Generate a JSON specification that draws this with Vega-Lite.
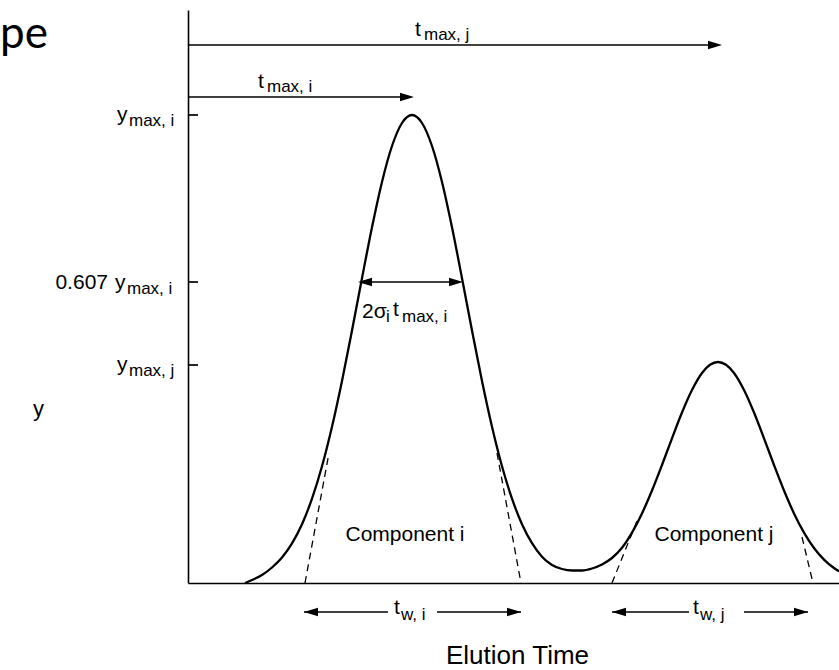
{
  "$schema": "https://vega.github.io/schema/vega-lite/v6.json",
  "autosize": {"type": "none"},
  "padding": {"left": 188, "top": 10, "right": 0, "bottom": 87},
  "width": 651,
  "height": 573,
  "background": "white",
  "config": {"view": {"stroke": null}, "font": "Liberation Sans"},
  "datasets": {
    "curve": [
      {"x": 57, "y": 0}, {"x": 64, "y": 3}, {"x": 74, "y": 8}, {"x": 84, "y": 15.5}, {"x": 94, "y": 25.5},
      {"x": 104, "y": 39.6}, {"x": 114, "y": 58.8}, {"x": 124, "y": 84.3}, {"x": 134, "y": 116.7}, {"x": 144, "y": 156.2},
      {"x": 154, "y": 202}, {"x": 164, "y": 252.5}, {"x": 174, "y": 304.8}, {"x": 184, "y": 355.7}, {"x": 194, "y": 401.1},
      {"x": 204, "y": 437}, {"x": 214, "y": 460}, {"x": 224, "y": 468}, {"x": 234, "y": 460}, {"x": 244, "y": 437},
      {"x": 254, "y": 401.1}, {"x": 264, "y": 355.7}, {"x": 274, "y": 304.8}, {"x": 284, "y": 252.5}, {"x": 294, "y": 202},
      {"x": 304, "y": 156.2}, {"x": 314, "y": 116.7}, {"x": 324, "y": 84.3}, {"x": 334, "y": 58.8}, {"x": 344, "y": 39.8},
      {"x": 354, "y": 26.3}, {"x": 364, "y": 18}, {"x": 374, "y": 14}, {"x": 384, "y": 12.5}, {"x": 394, "y": 12.5},
      {"x": 404, "y": 14.5}, {"x": 414, "y": 18.5}, {"x": 424, "y": 25}, {"x": 434, "y": 35.2}, {"x": 444, "y": 50.4},
      {"x": 454, "y": 69.6}, {"x": 464, "y": 92.5}, {"x": 474, "y": 118}, {"x": 484, "y": 144.7}, {"x": 494, "y": 170.5},
      {"x": 504, "y": 193}, {"x": 514, "y": 210}, {"x": 522, "y": 218.2}, {"x": 530, "y": 221}, {"x": 538, "y": 218.2},
      {"x": 546, "y": 210}, {"x": 556, "y": 193}, {"x": 566, "y": 170.5}, {"x": 576, "y": 144.7}, {"x": 586, "y": 118},
      {"x": 596, "y": 92.5}, {"x": 606, "y": 69.6}, {"x": 616, "y": 50.4}, {"x": 626, "y": 35}, {"x": 636, "y": 23.4},
      {"x": 646, "y": 15}, {"x": 651, "y": 11.8}
    ],
    "dashes": [
      {"seg": "i-left", "x": 117, "y": 0}, {"seg": "i-left", "x": 141, "y": 130},
      {"seg": "i-right", "x": 333, "y": 0}, {"seg": "i-right", "x": 309, "y": 130},
      {"seg": "j-left", "x": 424, "y": 0}, {"seg": "j-left", "x": 449, "y": 62},
      {"seg": "j-right", "x": 625, "y": 0}, {"seg": "j-right", "x": 614, "y": 46}
    ],
    "rules": [
      {"x": 0, "x2": 527, "y": 538},
      {"x": 0, "x2": 219, "y": 486},
      {"x": 177, "x2": 268, "y": 301},
      {"x": 116, "x2": 200, "y": -29},
      {"x": 249, "x2": 333, "y": -29},
      {"x": 424, "x2": 501, "y": -29},
      {"x": 556, "x2": 620, "y": -29},
      {"x": 0, "x2": 10, "y": 468},
      {"x": 0, "x2": 10, "y": 301},
      {"x": 0, "x2": 10, "y": 218}
    ],
    "heads": [
      {"x": 527, "y": 538, "dir": "r"},
      {"x": 219, "y": 486, "dir": "r"},
      {"x": 177, "y": 301, "dir": "l"},
      {"x": 268, "y": 301, "dir": "r"},
      {"x": 123, "y": -29, "dir": "l"},
      {"x": 326, "y": -29, "dir": "r"},
      {"x": 431, "y": -29, "dir": "l"},
      {"x": 613, "y": -29, "dir": "r"}
    ],
    "labels": [
      {"kind": "base", "x": -71, "y": 462, "text": "y"},
      {"kind": "sub", "x": -59, "y": 457, "text": "max, i"},
      {"kind": "right", "x": -80, "y": 294, "text": "0.607"},
      {"kind": "base", "x": -73, "y": 294, "text": "y"},
      {"kind": "sub", "x": -61, "y": 289, "text": "max, i"},
      {"kind": "base", "x": -71, "y": 212, "text": "y"},
      {"kind": "sub", "x": -59, "y": 207, "text": "max, j"},
      {"kind": "base", "x": 227, "y": 547, "text": "t"},
      {"kind": "sub", "x": 236, "y": 543, "text": "max, j"},
      {"kind": "base", "x": 70, "y": 495, "text": "t"},
      {"kind": "sub", "x": 79, "y": 491, "text": "max, i"},
      {"kind": "base", "x": 174, "y": 265, "text": "2σ"},
      {"kind": "sub", "x": 198, "y": 261, "text": "i"},
      {"kind": "base", "x": 205, "y": 267, "text": "t"},
      {"kind": "sub", "x": 214, "y": 261, "text": "max, i"},
      {"kind": "base", "x": 206, "y": -31, "text": "t"},
      {"kind": "sub", "x": 213, "y": -37, "text": "w, i"},
      {"kind": "base", "x": 505, "y": -31, "text": "t"},
      {"kind": "sub", "x": 512, "y": -37, "text": "w, j"},
      {"kind": "center", "x": 217, "y": 42, "text": "Component i"},
      {"kind": "center", "x": 526, "y": 42, "text": "Component j"},
      {"kind": "big", "x": -188, "y": 535, "text": "pe"}
    ]
  },
  "encoding": {
    "x": {
      "field": "x", "type": "quantitative",
      "scale": {"domain": [0, 651], "nice": false, "zero": false},
      "axis": {"title": "Elution Time", "labels": false, "ticks": false, "grid": false,
        "domainColor": "#000", "domainWidth": 1.6, "titleFontSize": 26, "titleFontWeight": "normal",
        "titleColor": "#000", "titleX": 329, "titleY": 72, "titleBaseline": "middle", "titleAlign": "center"}
    },
    "y": {
      "field": "y", "type": "quantitative",
      "scale": {"domain": [0, 573], "nice": false, "zero": false},
      "axis": {"title": "y", "labels": false, "ticks": false, "grid": false,
        "domainColor": "#000", "domainWidth": 1.6, "titleFontSize": 22, "titleFontWeight": "normal",
        "titleColor": "#000", "titleAngle": 0, "titleX": -150, "titleY": 398, "titleBaseline": "middle", "titleAlign": "center"}
    }
  },
  "layer": [
    {"data": {"name": "curve"}, "mark": {"type": "line", "interpolate": "monotone", "color": "#000", "strokeWidth": 2.3}},
    {"data": {"name": "dashes"}, "mark": {"type": "line", "color": "#000", "strokeWidth": 1.3, "strokeDash": [7, 5]},
     "encoding": {"detail": {"field": "seg"}}},
    {"data": {"name": "rules"}, "mark": {"type": "rule", "color": "#000", "strokeWidth": 1.7},
     "encoding": {"x2": {"field": "x2"}}},
    {"data": {"name": "heads"}, "mark": {"type": "point", "filled": true, "color": "#000", "opacity": 1, "size": 196},
     "encoding": {"shape": {"field": "dir", "type": "nominal", "legend": null,
       "scale": {"domain": ["r", "l"], "range": ["M1,0L-1,-0.6L-1,0.6Z", "M-1,0L1,-0.6L1,0.6Z"]}}}},
    {"data": {"name": "labels"}, "transform": [{"filter": "datum.kind === 'base'"}],
     "mark": {"type": "text", "align": "left", "baseline": "alphabetic", "fontSize": 21, "color": "#000"},
     "encoding": {"text": {"field": "text"}}},
    {"data": {"name": "labels"}, "transform": [{"filter": "datum.kind === 'sub'"}],
     "mark": {"type": "text", "align": "left", "baseline": "alphabetic", "fontSize": 17, "color": "#000"},
     "encoding": {"text": {"field": "text"}}},
    {"data": {"name": "labels"}, "transform": [{"filter": "datum.kind === 'right'"}],
     "mark": {"type": "text", "align": "right", "baseline": "alphabetic", "fontSize": 21, "color": "#000"},
     "encoding": {"text": {"field": "text"}}},
    {"data": {"name": "labels"}, "transform": [{"filter": "datum.kind === 'center'"}],
     "mark": {"type": "text", "align": "center", "baseline": "alphabetic", "fontSize": 21, "color": "#000"},
     "encoding": {"text": {"field": "text"}}},
    {"data": {"name": "labels"}, "transform": [{"filter": "datum.kind === 'big'"}],
     "mark": {"type": "text", "align": "left", "baseline": "alphabetic", "fontSize": 44, "font": "Lato", "color": "#000"},
     "encoding": {"text": {"field": "text"}}}
  ]
}
